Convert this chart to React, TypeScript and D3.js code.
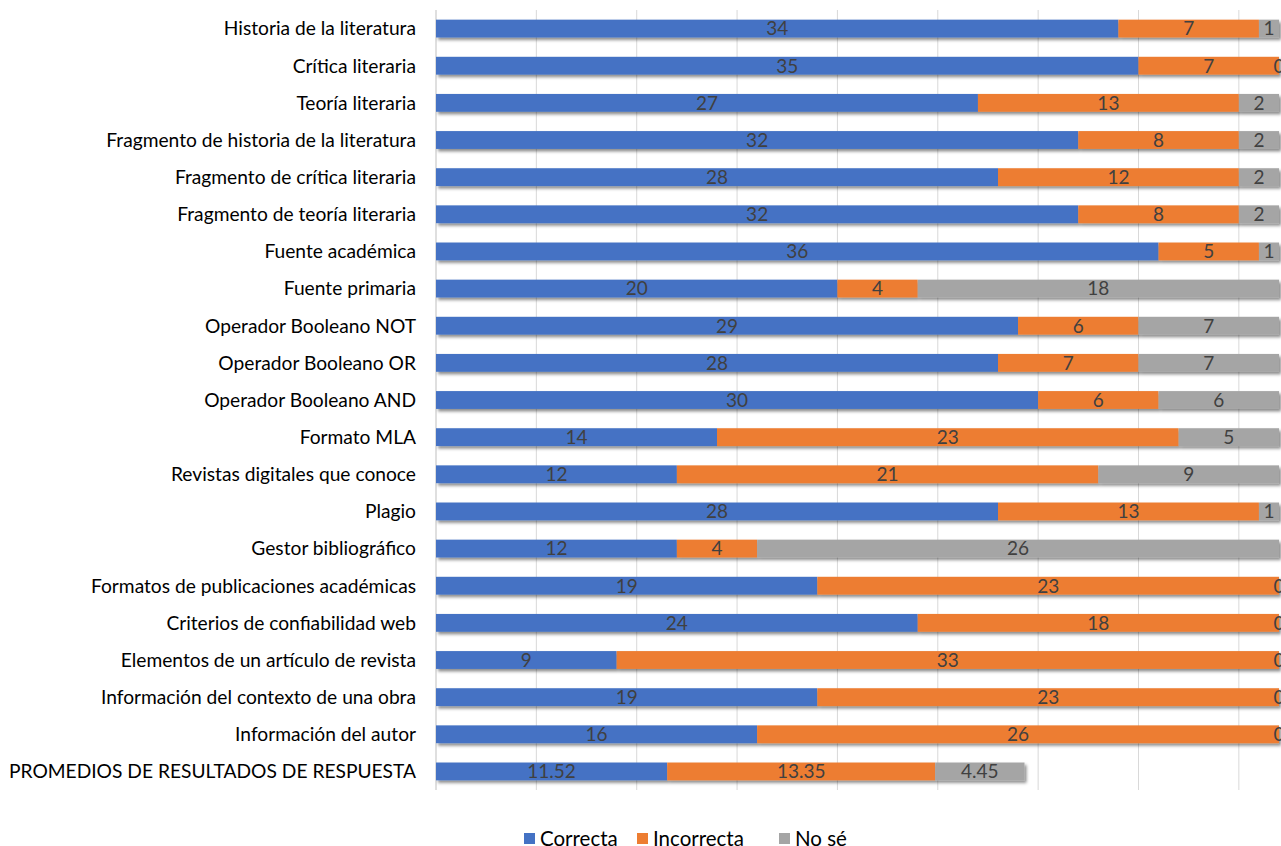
import { useEffect, useRef } from "react";
import * as d3 from "d3";

const categories = [
  "Historia de la literatura",
  "Crítica literaria",
  "Teoría literaria",
  "Fragmento de historia de la literatura",
  "Fragmento de crítica literaria",
  "Fragmento de teoría literaria",
  "Fuente académica",
  "Fuente primaria",
  "Operador Booleano NOT",
  "Operador Booleano OR",
  "Operador Booleano AND",
  "Formato MLA",
  "Revistas digitales que conoce",
  "Plagio",
  "Gestor bibliográfico",
  "Formatos de publicaciones académicas",
  "Criterios de confiabilidad web",
  "Elementos de un artículo de revista",
  "Información del contexto de una obra",
  "Información del autor",
  "PROMEDIOS DE RESULTADOS DE RESPUESTA",
];

const correcta = [34, 35, 27, 32, 28, 32, 36, 20, 29, 28, 30, 14, 12, 28, 12, 19, 24, 9, 19, 16, 11.52];
const incorrecta = [7, 7, 13, 8, 12, 8, 5, 4, 6, 7, 6, 23, 21, 13, 4, 23, 18, 33, 23, 26, 13.35];
const noSe = [1, 0, 2, 2, 2, 2, 1, 18, 7, 7, 6, 5, 9, 1, 26, 0, 0, 0, 0, 0, 4.45];

const seriesNames = ["Correcta", "Incorrecta", "No sé"];
const colors = ["#4472C4", "#ED7D31", "#A5A5A5"];
const gridTicks = [0, 5, 10, 15, 20, 25, 30, 35, 40];

export default function App() {
  const ref = useRef<SVGSVGElement>(null);

  useEffect(() => {
    if (!ref.current) return;
    const width = 1281;
    const height = 846;
    const svg = d3.select(ref.current);
    svg.selectAll("*").remove();

    const font = "Lato, 'Open Sans', sans-serif";

    const defs = svg.append("defs");
    const f = defs
      .append("filter")
      .attr("id", "shadow")
      .attr("x", "-5%")
      .attr("y", "-30%")
      .attr("width", "110%")
      .attr("height", "180%");
    f.append("feDropShadow")
      .attr("dx", 2)
      .attr("dy", 2.5)
      .attr("stdDeviation", 1.5)
      .attr("flood-color", "#000")
      .attr("flood-opacity", 0.45);

    const x = d3.scaleLinear().domain([0, 42]).range([436, 1279]);
    const y = d3.scaleBand().domain(categories).range([10, 790]).paddingInner(0.52).paddingOuter(0.26);

    // gridlines
    svg
      .append("g")
      .selectAll("line")
      .data(gridTicks)
      .enter()
      .append("line")
      .attr("x1", (d) => x(d))
      .attr("x2", (d) => x(d))
      .attr("y1", 10)
      .attr("y2", 790)
      .attr("stroke", (d) => (d === 0 ? "#BFBFBF" : "#D9D9D9"))
      .attr("stroke-width", 1);

    const data = categories.map((c, i) => ({
      cat: c,
      vals: [correcta[i], incorrecta[i], noSe[i]],
    }));

    const bars = svg.append("g");
    data.forEach((d) => {
      let acc = 0;
      const row = bars.append("g").attr("filter", "url(#shadow)");
      d.vals.forEach((v, k) => {
        row
          .append("rect")
          .attr("x", x(acc))
          .attr("y", y(d.cat)!)
          .attr("width", x(acc + v) - x(acc))
          .attr("height", y.bandwidth())
          .attr("fill", colors[k]);
        acc += v;
      });
    });

    const labels = svg.append("g");
    data.forEach((d) => {
      let acc = 0;
      d.vals.forEach((v) => {
        labels
          .append("text")
          .attr("x", x(acc + v / 2))
          .attr("y", y(d.cat)! + y.bandwidth() / 2)
          .attr("dy", "0.36em")
          .attr("text-anchor", "middle")
          .attr("font-family", font)
          .attr("font-size", 19)
          .attr("fill", "#404040")
          .text(String(v));
        acc += v;
      });
    });

    // category labels
    svg
      .append("g")
      .selectAll("text")
      .data(categories)
      .enter()
      .append("text")
      .attr("x", 416)
      .attr("y", (d) => y(d)! + y.bandwidth() / 2)
      .attr("dy", "0.36em")
      .attr("text-anchor", "end")
      .attr("font-family", font)
      .attr("font-size", 19.2)
      .attr("fill", "#000")
      .text((d) => d);

    // legend
    const legendX = [524, 637, 779];
    const legend = svg.append("g");
    seriesNames.forEach((s, i) => {
      legend
        .append("rect")
        .attr("x", legendX[i])
        .attr("y", 833)
        .attr("width", 11)
        .attr("height", 11)
        .attr("fill", colors[i]);
      legend
        .append("text")
        .attr("x", legendX[i] + 16)
        .attr("y", 838.5)
        .attr("dy", "0.36em")
        .attr("font-family", font)
        .attr("font-size", 20.5)
        .attr("fill", "#000")
        .text(s);
    });

    svg.attr("width", width).attr("height", height);
  }, []);

  return (
    <svg
      ref={ref}
      width={1281}
      height={846}
      style={{ position: "absolute", left: 0, top: 0, background: "#fff" }}
    />
  );
}
